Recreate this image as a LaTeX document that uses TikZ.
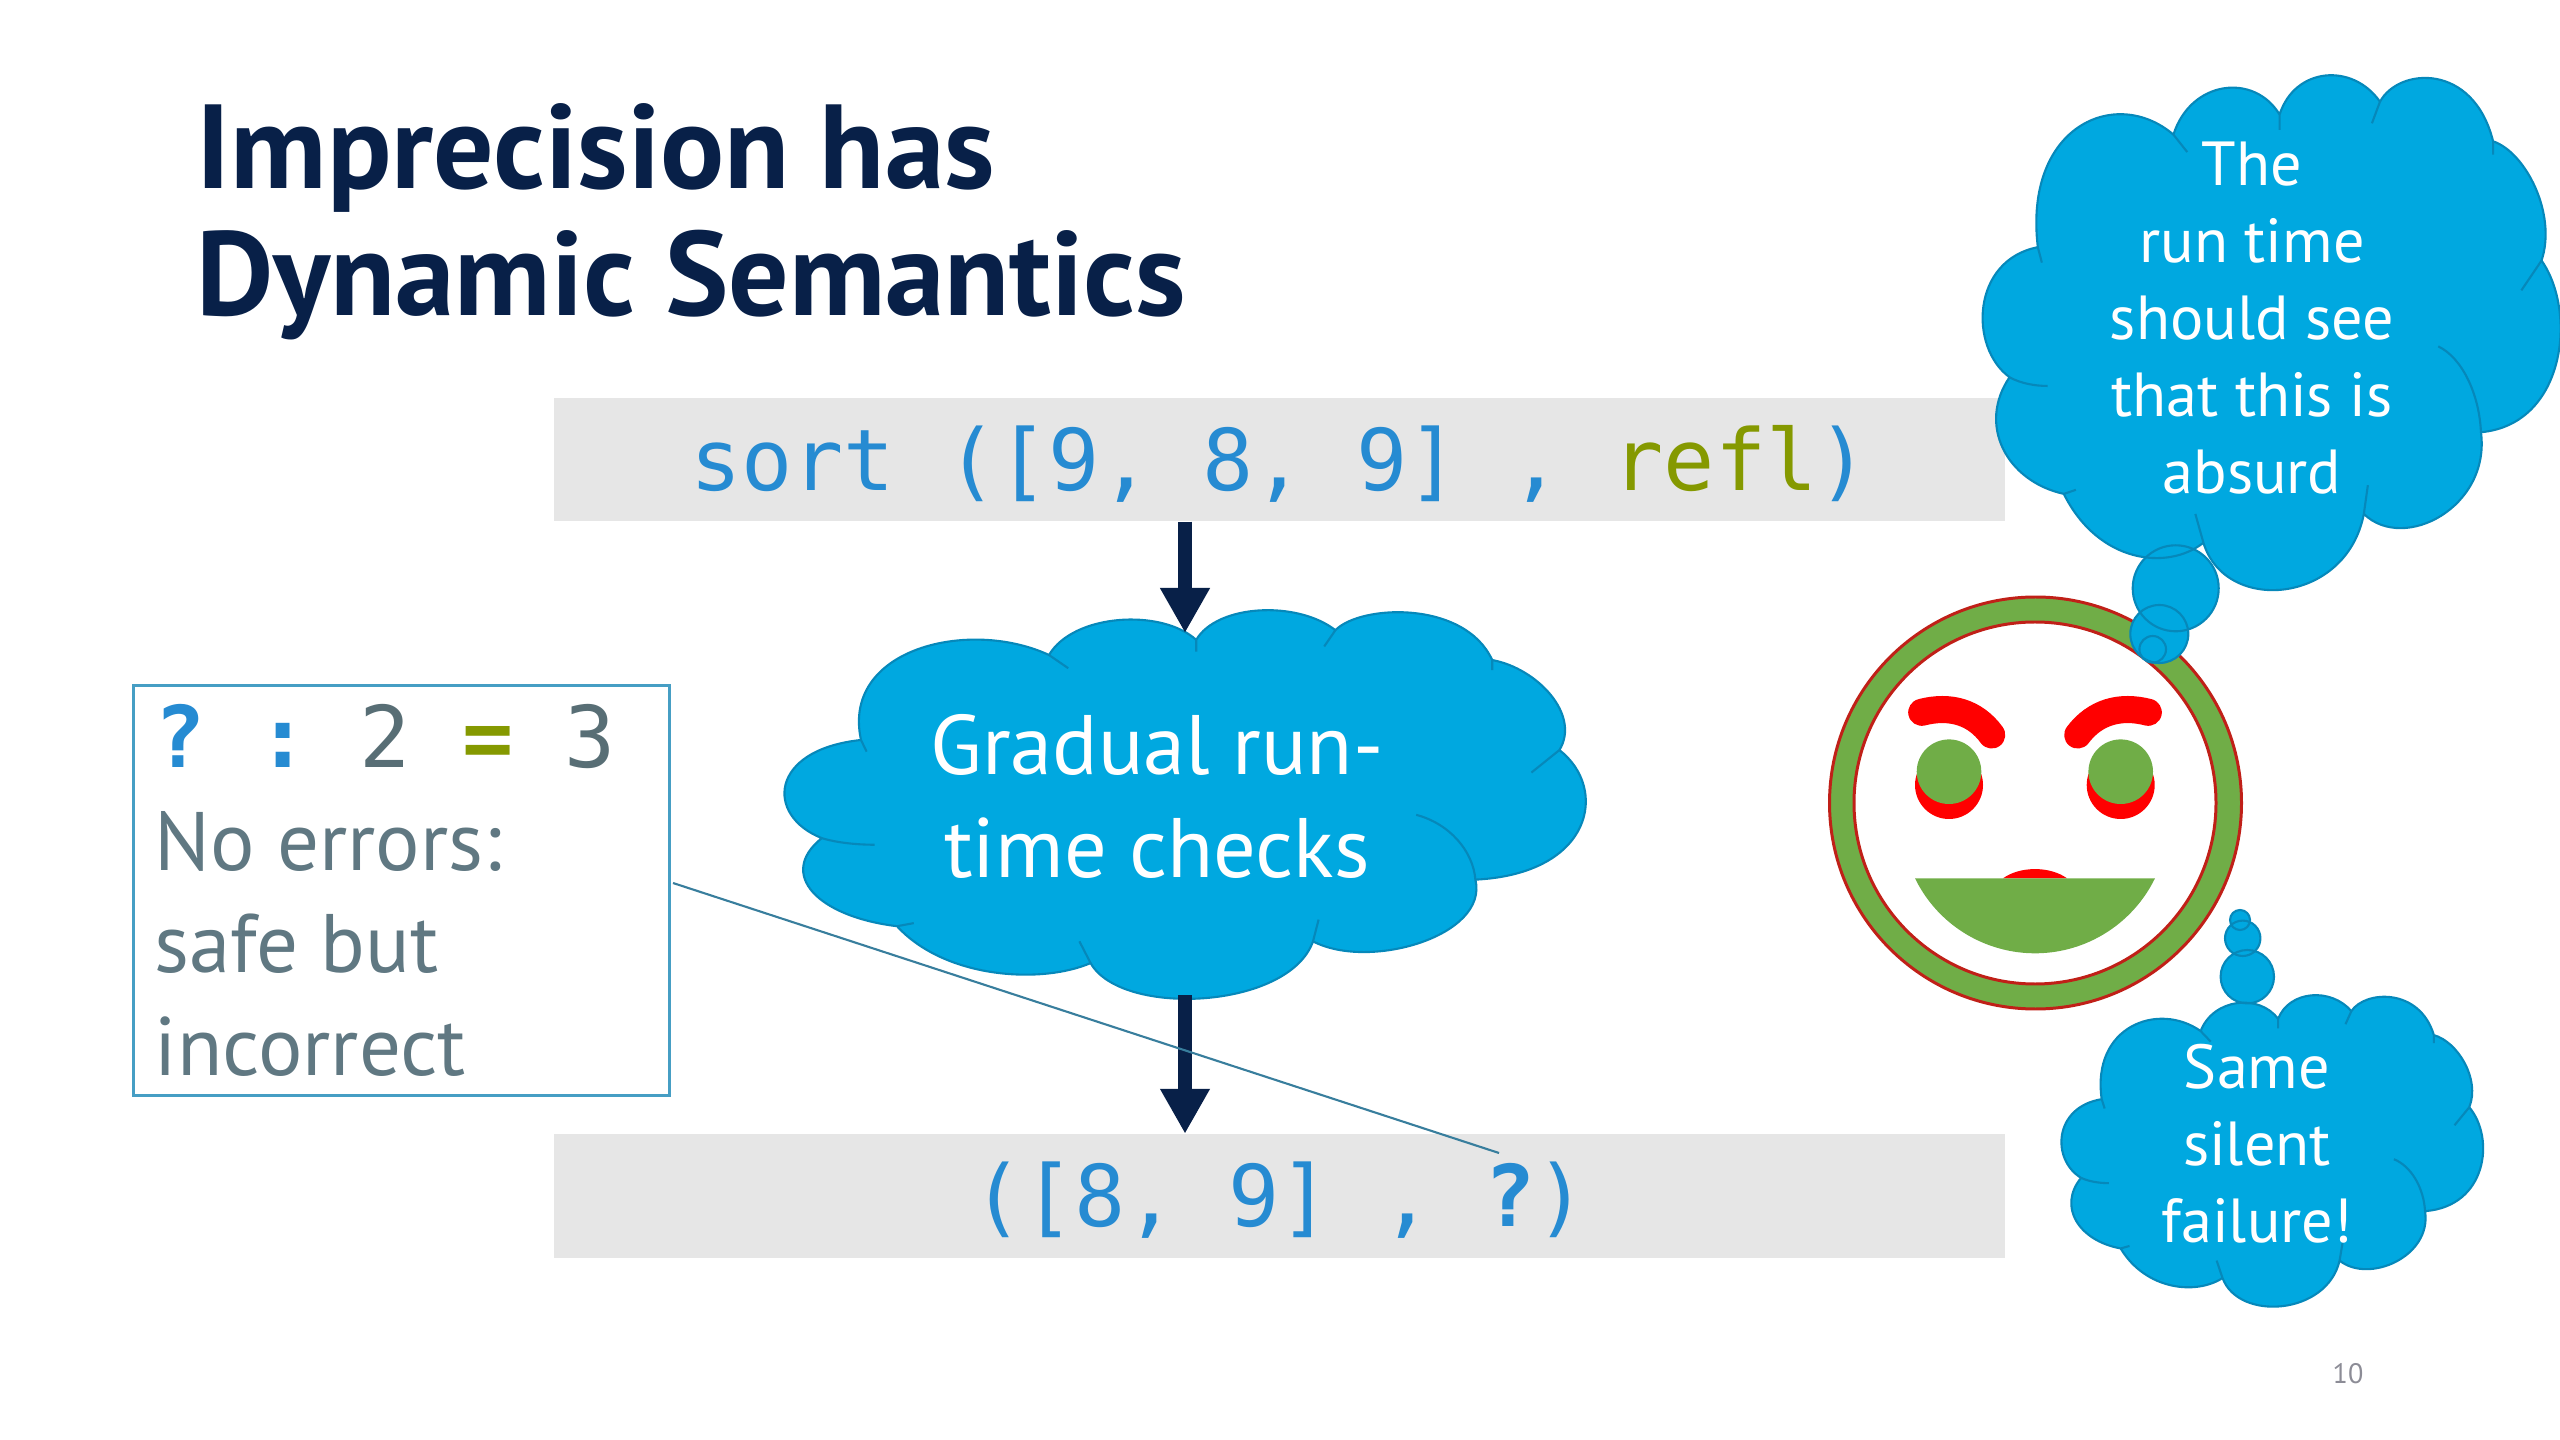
\documentclass[tikz,border=0pt]{standalone}
\usepackage{fontspec}
\setmainfont{PT Sans}
\newfontfamily\codefont{DejaVu Sans Mono}
\usetikzlibrary{arrows.meta}
\definecolor{navy}{RGB}{8, 32, 72}
\definecolor{cloudblue}{RGB}{0, 168, 224}
\definecolor{cloudedge}{RGB}{6, 136, 186}
\definecolor{codegray}{RGB}{230, 230, 230}
\definecolor{sblue}{RGB}{38, 139, 210}
\definecolor{sgreen}{RGB}{133, 153, 0}
\definecolor{sgray}{RGB}{88, 110, 117}
\definecolor{notegray}{RGB}{96, 120, 130}
\definecolor{noteline}{RGB}{70, 158, 196}
\definecolor{facegreen}{RGB}{112, 173, 71}
\definecolor{facered}{RGB}{192, 32, 24}
\definecolor{pagegray}{RGB}{140, 140, 150}
\pgfdeclarelayer{shapelayer}
\pgfdeclarelayer{edgelayer}
\pgfdeclarelayer{nodelayer}
\pgfsetlayers{main,shapelayer,edgelayer,nodelayer}
\tikzstyle{codebox}=[rectangle,fill=codegray,minimum width=14.51cm,minimum height=1.23cm,inner sep=0pt,text height=0.725cm,text depth=0.11cm,text=sblue,font=\codefont\fontsize{24.2}{29}\selectfont]
\tikzstyle{tightspace}=[execute at begin node={\spaceskip=0pt\xspaceskip=0pt\frenchspacing}]
\tikzstyle{notebox}=[rectangle,tightspace,fill=white,draw=noteline,line width=0.9pt,minimum width=5.35cm,minimum height=4.1cm,text width=4.93cm,align=left,inner sep=0pt,text=notegray,font=\fontsize{23.6}{29.2}\selectfont]
\tikzstyle{bigcloud}=[tightspace,align=center,text=white,inner sep=0pt,font=\fontsize{24}{29.3}\selectfont]
\tikzstyle{smallcloud}=[tightspace,align=center,text=white,inner sep=0pt,font=\fontsize{17.7}{21.9}\selectfont]
\tikzstyle{flow}=[line width=4pt,navy,-{Triangle[length=12.8pt,width=13.3pt]}]
\tikzstyle{pointer}=[line width=0.6pt,noteline!80!black]
\tikzstyle{brow}=[line width=7.7pt,line cap=round,red]
% outline of one cloud, in a 100 by 100 box
\newcommand{\cloudrim}{(9.5,33.5) .. controls (7,10) and (23,2) .. (33,11.6)
    .. controls (36,1) and (47,-0.5) .. (51.4,7.7)
    .. controls (54,-1.5) and (64,-2.5) .. (68.8,5.2)
    .. controls (72,-1.5) and (85,-2.5) .. (88.4,12.9)
    .. controls (94,15) and (99.5,27) .. (96.8,36.1)
    .. controls (103,46) and (101,68) .. (86.3,69.5)
    .. controls (88,84) and (73,93) .. (66,85.4)
    .. controls (63,103) and (42,105) .. (38.2,91)
    .. controls (32,96.5) and (20,95) .. (14,81.5)
    .. controls (4,79) and (-1,68) .. (4.6,58.8)
    .. controls (-2.5,53) and (-2,36) .. (9.5,33.5) -- cycle}
\newcommand{\cloudfolds}{(51.4,7.7) -- (51.4,10.7) (68.8,5.2) -- (67.4,9.4)
    (88.4,12.9) -- (88.4,15.5) (96.8,36.1) -- (93.3,41.9)
    (78.9,52.8) .. controls (83,55) and (86,62) .. (86.3,69.5)
    (66,85.4) -- (66.7,79.8) (38.2,91) -- (36.8,85.4)
    (14,81.5) -- (16.1,80.7) (4.6,58.8) .. controls (6.5,60) and (9,60.5) .. (11.2,60.5)
    (9.5,33.5) -- (10.2,36.5) (33,11.6) -- (35.4,15)}
\newcommand{\cloudfill}[4]{\fill [cloudblue,shift={(#1,#2)},x=#3/100*0.01cm,y=-#4/100*0.01cm] \cloudrim;}
\newcommand{\cloudline}[4]{\draw [cloudedge,line width=0.6pt,shift={(#1,#2)},x=#3/100*0.01cm,y=-#4/100*0.01cm] \cloudrim \cloudfolds;}
\begin{document}
\begin{tikzpicture}[x=0.01cm,y=-0.01cm]
    \useasboundingbox (0,0) rectangle (2560,1440);

    % the face
    \filldraw [facegreen,draw=facered,line width=0.85pt,even odd rule] (2035.5,803) circle [radius=206] (2035,803) circle [radius=181];
    \foreach \ex in {1949,2120.7} {
        \fill [red] (\ex,785) circle [radius=34];
        \fill [facegreen] (\ex,771.7) circle [radius=32.3];
    }
    \draw [brow] (1921.7,712.3) .. controls (1950,705) and (1975,712) .. (1991.7,735);
    \draw [brow] (2148.3,712.3) .. controls (2120,705) and (2095,712) .. (2077.7,735);
    \fill [red] (2003,878.3) .. controls (2020,866) and (2050,866) .. (2067,878.3) -- cycle;
    \fill [facegreen] (1915,878.3) arc [start angle=154,end angle=26,radius=133.5] -- cycle;

    \begin{pgfonlayer}{shapelayer}
        \node [style=codebox,tightspace] (src) at (1279.5,459.5) {sort ([9, 8, 9] , {\color{sgreen}refl})};
        \node [style=codebox,tightspace] (res) at (1279.5,1196) {([8, 9] , {\bfseries ?})};

        \cloudfill{785}{610}{800}{388}
        \cloudline{785}{610}{800}{388}

        \cloudfill{1983}{75}{577}{514}
        \cloudfill{2061.7}{995}{421}{311}
        \foreach \cx/\cy/\cr in {2175.7/588.3/43,2159.3/634/29,2152.7/649.3/13.3,2240/920/10,2242.7/938.3/17.7,2247.3/976.7/26.7}
            \fill [cloudblue] (\cx,\cy) circle [radius=\cr];
        \cloudline{1983}{75}{577}{514}
        \cloudline{2061.7}{995}{421}{311}
        \foreach \cx/\cy/\cr in {2175.7/588.3/43,2159.3/634/29,2152.7/649.3/13.3,2240/920/10,2242.7/938.3/17.7,2247.3/976.7/26.7}
            \draw [cloudedge,line width=0.6pt] (\cx,\cy) circle [radius=\cr];
    \end{pgfonlayer}

    \begin{pgfonlayer}{nodelayer}
        \node [anchor=north west,tightspace,inner sep=0pt,align=left,text=navy,font=\bfseries\fontsize{34}{36.1}\selectfont] (title) at (196,103) {Imprecision has\\Dynamic Semantics};
        \node [style=notebox] (note) at (401.5,890.5) {{\codefont\fontsize{24.2}{29.2}\selectfont{\bfseries\color{sblue}? :} {\color{sgray}2} {\bfseries\color{sgreen}=} {\color{sgray}3}}\\No errors:\\safe but\\incorrect};
        \node [style=bigcloud] (gradual) at (1157,796) {Gradual run-\\time checks};
        \node [style=smallcloud] (absurd) at (2252,318.5) {The\\run time\\should see\\that this is\\absurd};
        \node [style=smallcloud] (failure) at (2257,1143.5) {Same\\silent\\failure!};
        \node [text=pagegray,inner sep=0pt,font=\fontsize{8}{10}\selectfont] (pagenum) at (2348,1374) {10};
        \coordinate (gradualtop) at (1185,633);
        \coordinate (gradualbot) at (1185,995);
        \coordinate (notefrom) at (673,883);
        \coordinate (noteto) at (1499,1153);
    \end{pgfonlayer}

    \begin{pgfonlayer}{edgelayer}
        \draw [style=flow] (src.south -| gradualtop) to (gradualtop);
        \draw [style=flow] (gradualbot) to (res.north -| gradualbot);
        \draw [style=pointer] (notefrom) to (noteto);
    \end{pgfonlayer}
\end{tikzpicture}
\end{document}
